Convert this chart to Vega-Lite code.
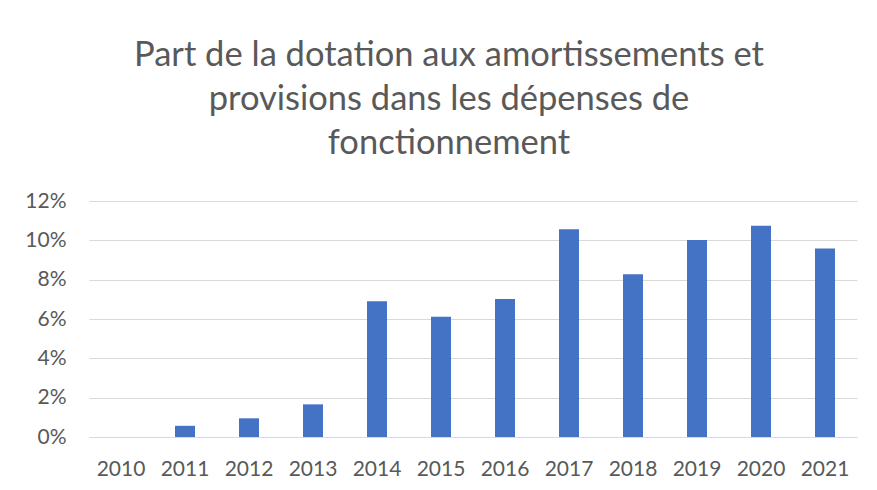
{
  "$schema": "https://vega.github.io/schema/vega-lite/v6.json",
  "width": 768,
  "height": 236,
  "autosize": {"type": "none"},
  "padding": {"left": 89, "top": 201, "right": 20, "bottom": 53},
  "background": "white",
  "title": {
    "text": ["Part de la dotation aux amortissements et", "provisions dans les dépenses de", "fonctionnement"],
    "font": "Lato",
    "fontSize": 34.5,
    "fontWeight": "normal",
    "color": "#595959",
    "lineHeight": 44,
    "anchor": "middle",
    "dx": -24,
    "offset": 29
  },
  "data": {
    "values": [
      {"annee": "2010", "part": 0.0},
      {"annee": "2011", "part": 0.0057},
      {"annee": "2012", "part": 0.0095},
      {"annee": "2013", "part": 0.0166},
      {"annee": "2014", "part": 0.069},
      {"annee": "2015", "part": 0.0612},
      {"annee": "2016", "part": 0.0702},
      {"annee": "2017", "part": 0.1056},
      {"annee": "2018", "part": 0.0827},
      {"annee": "2019", "part": 0.1002},
      {"annee": "2020", "part": 0.1074},
      {"annee": "2021", "part": 0.0959}
    ]
  },
  "mark": {"type": "bar", "color": "#4472C4"},
  "encoding": {
    "x": {
      "field": "annee",
      "type": "nominal",
      "sort": null,
      "scale": {"paddingInner": 0.6875, "paddingOuter": 0.34375},
      "axis": {
        "title": null,
        "labelAngle": 0,
        "ticks": false,
        "domainColor": "#d9d9d9",
        "domainWidth": 1,
        "labelFont": "Lato",
        "labelFontSize": 21,
        "labelColor": "#595959",
        "labelPadding": 21
      }
    },
    "y": {
      "field": "part",
      "type": "quantitative",
      "scale": {"domain": [0, 0.12]},
      "axis": {
        "title": null,
        "format": ".0%",
        "values": [0, 0.02, 0.04, 0.06, 0.08, 0.1, 0.12],
        "ticks": false,
        "domain": false,
        "gridColor": "#d9d9d9",
        "gridWidth": 1,
        "labelFont": "Lato",
        "labelFontSize": 21,
        "labelColor": "#595959",
        "labelPadding": 23
      }
    }
  },
  "config": {"view": {"stroke": null}}
}
